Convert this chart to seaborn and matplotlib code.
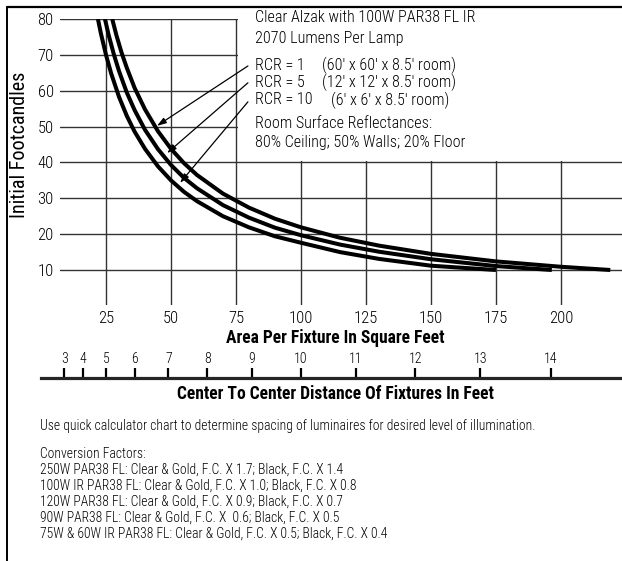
import numpy as np
import pandas as pd
import matplotlib
matplotlib.use("Agg")
import matplotlib.pyplot as plt
import seaborn as sns
from matplotlib.patches import Rectangle
from matplotlib.lines import Line2D

# ---------------- data ----------------
rcr1_area = [27.4, 29, 31, 33, 36, 40, 45, 50, 55, 60, 70, 80, 90, 100, 115, 130, 150, 175, 200, 219]
rcr1_fc   = [80, 75.5, 70.6, 66.4, 60.8, 54.8, 48.7, 43.8, 39.8, 36.5, 31.3, 27.4, 24.3, 21.9, 19.0, 16.8, 14.5, 12.4, 10.9, 10.0]
rcr5_area = [24.6, 26, 28, 30, 33, 36, 40, 45, 50, 55, 60, 70, 80, 90, 100, 115, 130, 150, 175, 196.5]
rcr5_fc   = [80, 75.6, 70.2, 65.5, 59.5, 54.6, 49.1, 43.7, 39.3, 35.7, 32.8, 28.1, 24.6, 21.8, 19.7, 17.1, 15.1, 13.0, 11.1, 10.0]
rcr10_area = [21.9, 23, 25, 27, 30, 33, 36, 40, 45, 50, 55, 60, 70, 80, 90, 100, 115, 130, 150, 175]
rcr10_fc   = [80, 76.1, 70, 64.8, 58.3, 53, 48.6, 43.8, 38.9, 35, 31.8, 29.2, 25, 21.9, 19.4, 17.6, 15.0, 13.1, 11.2, 10.0]

area_ticks = [25, 50, 75, 100, 125, 150, 175, 200]
fc_ticks = [10, 20, 30, 40, 50, 60, 70, 80]
distance_ticks = [3, 4, 5, 6, 7, 8, 9, 10, 11, 12, 13, 14]

header_lines = ["Clear Alzak with 100W PAR38 FL IR", "2070 Lumens Per Lamp"]
rcr_labels = ["RCR = 1", "RCR = 5", "RCR = 10"]
rcr_rooms = ["(60' x 60' x 8.5' room)", "(12' x 12' x 8.5' room)", "(6' x 6' x 8.5' room)"]
refl_lines = ["Room Surface Reflectances:", "80% Ceiling; 50% Walls; 20% Floor"]
note_lines = [
    "Use quick calculator chart to determine spacing of luminaires for desired level of illumination.",
    "Conversion Factors:",
    "250W PAR38 FL: Clear & Gold, F.C. X 1.7; Black, F.C. X 1.4",
    "100W IR PAR38 FL: Clear & Gold, F.C. X 1.0; Black, F.C. X 0.8",
    "120W PAR38 FL: Clear & Gold, F.C. X 0.9; Black, F.C. X 0.7",
    "90W PAR38 FL: Clear & Gold, F.C. X  0.6; Black, F.C. X 0.5",
    "75W & 60W IR PAR38 FL: Clear & Gold, F.C. X 0.5; Black, F.C. X 0.4",
]

df = pd.concat([
    pd.DataFrame({"area": rcr1_area, "fc": rcr1_fc, "rcr": "RCR = 1"}),
    pd.DataFrame({"area": rcr5_area, "fc": rcr5_fc, "rcr": "RCR = 5"}),
    pd.DataFrame({"area": rcr10_area, "fc": rcr10_fc, "rcr": "RCR = 10"}),
])

# ---------------- style ----------------
sns.set_style("white")
plt.rcParams["font.family"] = ["Roboto Condensed", "Archivo Narrow", "IBM Plex Sans Condensed", "DejaVu Sans"]
plt.rcParams["font.weight"] = "light"
for k in ["text.color", "axes.labelcolor", "xtick.color", "ytick.color"]:
    plt.rcParams[k] = "black"

W, H = 622, 561
fig = plt.figure(figsize=(W / 100, H / 100), dpi=100)
renderer = fig.canvas.get_renderer()

def fx(px):
    return px / W

def fy(py):
    return 1 - py / H

def fitted_size(sample, target_px, weight="light"):
    t = fig.text(0, 0, sample, fontsize=10, fontweight=weight)
    w = t.get_window_extent(renderer).width
    t.remove()
    return 10 * target_px / w

X0, X1 = 7.31, 223.5
Y0, Y1 = 0.24, 80.0

tick_fs = fitted_size("200", 24.5)
dist_fs = fitted_size("14", 13.5)
ylab_fs = fitted_size("Initial Footcandles", 143)
bold_fs = fitted_size("Area Per Fixture In Square Feet", 219, "bold")
head_fs = fitted_size(header_lines[0], 220)
note_fs = fitted_size(note_lines[0], 493)

ax = fig.add_axes([fx(60), fy(305), (622 - 60) / W, (305 - 19) / H])
ax.set_axisbelow(True)
sns.lineplot(data=df, x="area", y="fc", hue="rcr", palette=["black"] * 3,
             legend=False, estimator=None, sort=False, lw=2.9, ax=ax,
             solid_capstyle="butt")
ax.set_xlim(X0, X1)
ax.set_ylim(Y0, Y1)
ax.set_xticks(area_ticks)
ax.set_yticks(fc_ticks)
ax.grid(True, color="#333333", lw=1.0)
ax.tick_params(length=0, labelsize=tick_fs, pad=4.5)
for s in ax.spines.values():
    s.set_visible(False)
ax.add_patch(Rectangle((75.7, 40.4), X1, 50, facecolor="white", lw=0, zorder=1.2))

ax.set_ylabel("Initial Footcandles", fontsize=ylab_fs)
ax.yaxis.set_label_coords((20 - 60) / 562, (305 - 144.5) / 286)
ax.yaxis.label.set_va("center")
ax.set_xlabel("Area Per Fixture In Square Feet", fontsize=bold_fs, fontweight="bold")
ax.xaxis.set_label_coords((335 - 60) / 562, (305 - 338) / 286)
ax.xaxis.label.set_va("center")

arrow_start = [(79.6, 66.9), (79.6, 62.2), (79.6, 56.9)]
arrow_end = [(44.6, 50.2), (48.5, 42.6), (53.5, 34.3)]
for s, e in zip(arrow_start, arrow_end):
    ax.annotate("", xy=e, xytext=s, zorder=3,
                arrowprops=dict(arrowstyle="-|>,head_length=0.55,head_width=0.18",
                                lw=0.9, color="black", shrinkA=0, shrinkB=0))

# ---------------- distance scale ----------------
ax2 = fig.add_axes([fx(41), fy(398), (622 - 41) / W, 20 / H])
ax2.patch.set_alpha(0)
ax2.set_xscale("function", functions=(lambda d: np.sign(d) * np.square(d),
                                      lambda t: np.sign(t) * np.sqrt(np.abs(t))))
ax2.set_xlim(0, np.sqrt(X1))
ax2.set_xticks(distance_ticks)
ax2.set_xticklabels([str(d) for d in distance_ticks])
ax2.minorticks_off()
ax2.set_yticks([])
ax2.xaxis.set_ticks_position("top")
ax2.tick_params(axis="x", direction="out", length=7, width=1.6, pad=1.5,
                labelsize=dist_fs, top=True, bottom=False, labeltop=True, labelbottom=False)
for k, s in ax2.spines.items():
    s.set_visible(k == "top")
ax2.spines["top"].set_linewidth(2.3)
ax2.set_xlabel("Center To Center Distance Of Fixtures In Feet", fontsize=bold_fs, fontweight="bold")
ax2.xaxis.set_label_position("bottom")
ax2.xaxis.set_label_coords((335 - 41) / 581, (398 - 394) / 20)
ax2.xaxis.label.set_va("center")

# ---------------- header text ----------------
tx = 255
fig.text(fx(tx), fy(18), header_lines[0], fontsize=head_fs, va="center")
fig.text(fx(tx), fy(38), header_lines[1], fontsize=head_fs, va="center")
for lab, room, py, rx in zip(rcr_labels, rcr_rooms, [65, 82, 100], [322, 322, 331]):
    fig.text(fx(tx), fy(py), lab, fontsize=head_fs, va="center")
    fig.text(fx(rx), fy(py), room, fontsize=head_fs, va="center")
fig.text(fx(tx), fy(124), refl_lines[0], fontsize=head_fs, va="center")
fig.text(fx(tx), fy(143), refl_lines[1], fontsize=head_fs, va="center")

# ---------------- notes ----------------
for line, py in zip(note_lines, [426, 454, 470, 486, 502, 518, 534]):
    fig.text(fx(40), fy(py), line, fontsize=note_fs, va="center")

# ---------------- page frame ----------------
fig.add_artist(Line2D([fx(6.5), 1.0], [fy(7), fy(7)], color="black", lw=1.6))
fig.add_artist(Line2D([fx(6.5), fx(6.5)], [fy(7), 0.0], color="black", lw=1.4))

fig.savefig("out.png", dpi=100)
